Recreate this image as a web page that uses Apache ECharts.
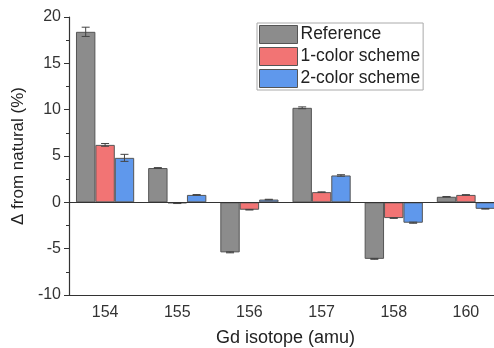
<!DOCTYPE html>
<html>
<head>
<meta charset="utf-8">
<script src="https://cdn.jsdelivr.net/npm/echarts@6/dist/echarts.min.js"></script>
<style>
  html, body { margin: 0; padding: 0; background: #fff; overflow: hidden; width: 494px; height: 348px; }
  #chart { width: 502px; height: 348px; }
</style>
</head>
<body>
<div id="chart"></div>
<script>
// Gd isotopes and deviation from natural abundance (%)
const isotopes = ['154', '155', '156', '157', '158', '160'];
const referenceVals = [18.4, 3.7, -5.4, 10.2, -6.1, 0.6];
const oneColorVals  = [6.2, -0.1, -0.8, 1.1, -1.7, 0.8];
const twoColorVals  = [4.8, 0.8, 0.3, 2.9, -2.2, -0.7];
// Uncertainties (±)
const referenceErr = [0.5, 0.05, 0.05, 0.1, 0.05, 0.03];
const oneColorErr  = [0.15, 0.03, 0.03, 0.03, 0.03, 0.03];
const twoColorErr  = [0.38, 0.04, 0.03, 0.08, 0.06, 0.03];
const yTicks = [-10, -5, 0, 5, 10, 15, 20];

const seriesDefs = [
  { name: 'Reference', vals: referenceVals, err: referenceErr, color: '#8c8c8c' },
  { name: '1-color scheme', vals: oneColorVals, err: oneColorErr, color: '#f27474' },
  { name: '2-color scheme', vals: twoColorVals, err: twoColorErr, color: '#5f98ec' }
];

const chart = echarts.init(document.getElementById('chart'), null, { renderer: 'canvas' });

const barWidth = 19.4;
const nSeries = seriesDefs.length;

// Error bars drawn over each bar of a series
function errorSeries(idx) {
  const def = seriesDefs[idx];
  return {
    type: 'custom',
    name: def.name + ' err',
    z: 5,
    silent: true,
    data: def.vals.map((v, i) => [i, v, def.err[i]]),
    renderItem: function (params, api) {
      const i = api.value(0), v = api.value(1), e = api.value(2);
      const center = api.coord([i, v]);
      const offset = (idx - (nSeries - 1) / 2) * barWidth;
      const x = center[0] + offset;
      const yHi = api.coord([i, v + e])[1];
      const yLo = api.coord([i, v - e])[1];
      const cap = 4;
      const style = { stroke: '#444', lineWidth: 1, fill: null };
      return {
        type: 'group',
        children: [
          { type: 'line', shape: { x1: x, y1: yHi, x2: x, y2: yLo }, style },
          { type: 'line', shape: { x1: x - cap, y1: yHi, x2: x + cap, y2: yHi }, style },
          { type: 'line', shape: { x1: x - cap, y1: yLo, x2: x + cap, y2: yLo }, style }
        ]
      };
    }
  };
}

const barSeries = seriesDefs.map((def, k) => ({
  type: 'bar',
  name: def.name,
  data: def.vals,
  barWidth: barWidth,
  barGap: '0%',
  itemStyle: { color: def.color, borderColor: '#555', borderWidth: 1 },
  ...(k === 0 ? {
    markLine: {
      silent: true,
      symbol: ['none', 'none'],
      label: { show: false },
      lineStyle: { color: '#333', width: 1.2, type: 'solid' },
      data: [{ yAxis: 0 }],
      z: 10
    }
  } : {})
}));

chart.setOption({
  animation: false,
  backgroundColor: '#fff',
  textStyle: { fontFamily: 'Liberation Sans, Arial, sans-serif' },
  grid: { left: 69, right: 0, top: 17, bottom: 53, containLabel: false, outerBoundsMode: 'none' },
  legend: {
    data: seriesDefs.map(d => d.name),
    orient: 'vertical',
    left: 257,
    top: 23,
    icon: 'rect',
    itemWidth: 38,
    itemHeight: 18,
    itemGap: 3,
    padding: [2, 3, 2, 2],
    borderColor: '#aaa',
    borderWidth: 1,
    backgroundColor: '#fff',
    textStyle: { fontSize: 17.5, color: '#222', padding: [0, 0, 0, -2] },
    itemStyle: { borderColor: '#555', borderWidth: 1 }
  },
  xAxis: {
    type: 'category',
    data: isotopes,
    name: 'Gd isotope (amu)',
    nameLocation: 'middle',
    nameGap: 34,
    nameTextStyle: { fontSize: 18, color: '#222' },
    axisLine: { onZero: false, lineStyle: { color: '#333', width: 1.2 } },
    axisTick: { alignWithLabel: true, length: 5, lineStyle: { color: '#333' } },
    axisLabel: { fontSize: 16, color: '#333', margin: 10 },
    splitLine: { show: false }
  },
  yAxis: {
    type: 'value',
    min: yTicks[0],
    max: yTicks[yTicks.length - 1],
    interval: 5,
    name: 'Δ from natural (%)',
    nameLocation: 'middle',
    nameGap: 38,
    nameTextStyle: { fontSize: 17, color: '#222' },
    axisLine: { show: true, lineStyle: { color: '#333', width: 1.2 } },
    axisTick: { show: true, length: 5, lineStyle: { color: '#333' } },
    minorTick: { show: true, splitNumber: 2, length: 3, lineStyle: { color: '#333' } },
    axisLabel: { fontSize: 16, color: '#333', margin: 8 },
    splitLine: { show: false }
  },
  series: [...barSeries, ...seriesDefs.map((d, i) => errorSeries(i))]
});
</script>
</body>
</html>
